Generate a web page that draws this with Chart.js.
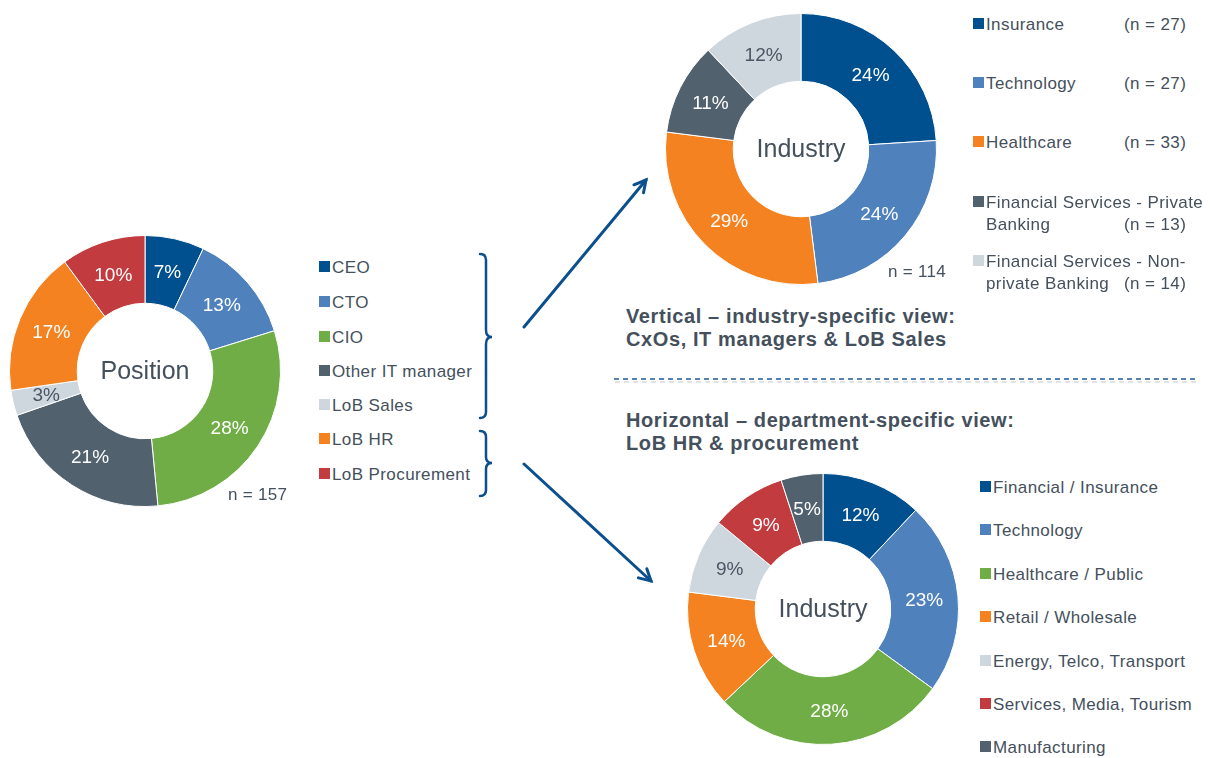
<!DOCTYPE html>
<html>
<head>
<meta charset="utf-8">
<script src="https://cdn.jsdelivr.net/npm/chart.js@4.4.1/dist/chart.umd.min.js"></script>
<style>
  html, body { margin: 0; padding: 0; background: #fff; }
  body { width: 1213px; height: 758px; position: relative; overflow: hidden;
         font-family: "Liberation Sans", Arial, sans-serif; color: #44505c; }
  canvas.pie { position: absolute; }
  .lg { position: absolute; font-size: 17px; letter-spacing: 0.4px; line-height: 22px; white-space: nowrap; }
  .sw { position: absolute; width: 11px; height: 11px; }
  .head { position: absolute; font-weight: bold; font-size: 20px; letter-spacing: 0.6px; line-height: 23px; white-space: nowrap; }
  .note { position: absolute; font-size: 17px; letter-spacing: 0.3px; white-space: nowrap; }
  svg { position: absolute; left: 0; top: 0; }
</style>
</head>
<body>
<svg width="1213" height="758" id="deco"></svg>
<canvas class="pie" id="posChart" width="272" height="272" style="left:9px;top:235px"></canvas>
<canvas class="pie" id="vertChart" width="272" height="272" style="left:665px;top:13px"></canvas>
<canvas class="pie" id="horChart" width="272" height="272" style="left:687px;top:473px"></canvas>

<div class="note" style="left:228px;top:485px">n = 157</div>
<div class="note" style="left:888px;top:262px">n = 114</div>

<div class="head" style="left:626px;top:305px">Vertical – industry-specific view:<br>CxOs, IT managers &amp; LoB Sales</div>
<div class="head" style="left:626px;top:409px">Horizontal – department-specific view:<br>LoB HR &amp; procurement</div>

<script>
// palette
const DK_BLUE = "#00508f", MID_BLUE = "#4f81bd", GREEN = "#70ad47", SLATE = "#52616e",
      LIGHT = "#cfd7de", ORANGE = "#f58220", RED = "#c13b3f";

// Position breakdown
const positionLabels = ["CEO", "CTO", "CIO", "Other IT manager", "LoB Sales", "LoB HR", "LoB Procurement"];
const positionValues = [7, 13, 28, 21, 3, 17, 10];
const positionColors = [DK_BLUE, MID_BLUE, GREEN, SLATE, LIGHT, ORANGE, RED];

// Vertical view - industries
const verticalLabels = ["Insurance", "Technology", "Healthcare",
  ["Financial Services - Private", "Banking"], ["Financial Services - Non-", "private Banking"]];
const verticalValues = [24, 24, 29, 11, 12];
const verticalCounts = [27, 27, 33, 13, 14];
const verticalColors = [DK_BLUE, MID_BLUE, ORANGE, SLATE, LIGHT];

// Horizontal view - industries
const horizontalLabels = ["Financial / Insurance", "Technology", "Healthcare / Public", "Retail / Wholesale",
  "Energy, Telco, Transport", "Services, Media, Tourism", "Manufacturing"];
const horizontalValues = [12, 23, 28, 14, 9, 9, 5];
const horizontalColors = [DK_BLUE, MID_BLUE, GREEN, ORANGE, LIGHT, RED, SLATE];

// percent labels inside the ring + caption in the hole
const ringText = {
  id: "ringText",
  afterDatasetsDraw(chart, args, opts) {
    const ctx = chart.ctx;
    const meta = chart.getDatasetMeta(0);
    const ds = chart.data.datasets[0];
    ctx.save();
    ctx.textAlign = "center";
    ctx.textBaseline = "middle";
    ctx.font = "19px 'Liberation Sans', Arial, sans-serif";
    meta.data.forEach((arc, i) => {
      const p = arc.tooltipPosition();
      ctx.fillStyle = ds.backgroundColor[i] === LIGHT ? "#4a5663" : "#fff";
      ctx.fillText(ds.data[i] + "%", p.x, p.y + 1);
    });
    const a = meta.data[0];
    ctx.fillStyle = "#44505c";
    ctx.font = "25px 'Liberation Sans', Arial, sans-serif";
    ctx.fillText(opts.caption, a.x, a.y + 1);
    ctx.restore();
  }
};

function makeDonut(id, labels, values, colors, caption) {
  return new Chart(document.getElementById(id), {
    type: "doughnut",
    data: {
      labels: labels,
      datasets: [{ data: values, backgroundColor: colors, borderColor: "#fff", borderWidth: 1 }]
    },
    options: {
      responsive: false,
      animation: false,
      cutout: "50%",
      plugins: { legend: { display: false }, tooltip: { enabled: false }, ringText: { caption: caption } }
    },
    plugins: [ringText]
  });
}

makeDonut("posChart", positionLabels, positionValues, positionColors, "Position");
makeDonut("vertChart", verticalLabels, verticalValues, verticalColors, "Industry");
makeDonut("horChart", horizontalLabels, horizontalValues, horizontalColors, "Industry");

// legends
function addLegend(labels, colors, x, ys, counts, countX) {
  labels.forEach((lab, i) => {
    const lines = Array.isArray(lab) ? lab : [lab];
    const sw = document.createElement("div");
    sw.className = "sw";
    sw.style.background = colors[i];
    sw.style.left = x + "px";
    sw.style.top = (ys[i] - 7) + "px";
    document.body.appendChild(sw);
    const t = document.createElement("div");
    t.className = "lg";
    t.style.left = (x + 13) + "px";
    t.style.top = (ys[i] - 11) + "px";
    t.innerHTML = lines.join("<br>");
    document.body.appendChild(t);
    if (counts) {
      const c = document.createElement("div");
      c.className = "lg";
      c.style.left = countX + "px";
      c.style.top = (ys[i] - 11 + (lines.length - 1) * 22) + "px";
      c.textContent = "(n = " + counts[i] + ")";
      document.body.appendChild(c);
    }
  });
}
addLegend(positionLabels, positionColors, 319, [268, 303, 338, 372, 406, 440, 475]);
addLegend(verticalLabels, verticalColors, 973, [25, 84, 143, 203, 262], verticalCounts, 1124);
addLegend(horizontalLabels, horizontalColors, 980, [488, 531, 575, 618, 662, 705, 748]);

// brackets, arrows, divider
const NS = "http://www.w3.org/2000/svg";
const svg = document.getElementById("deco");
function path(d, extra) {
  const p = document.createElementNS(NS, "path");
  p.setAttribute("d", d);
  p.setAttribute("fill", "none");
  p.setAttribute("stroke", extra && extra.stroke || "#0b4f8e");
  p.setAttribute("stroke-width", extra && extra.w || 3);
  if (extra && extra.dash) p.setAttribute("stroke-dasharray", extra.dash);
  p.setAttribute("stroke-linecap", extra && extra.cap || "round");
  svg.appendChild(p);
}
path("M480,254 Q486,254 486,260 L486,330 Q486,337 492,337 Q486,337 486,344 L486,412 Q486,418 480,418", { w: 2.5 });
path("M480,431 Q486,431 486,437 L486,457 Q486,463 492,463 Q486,463 486,469 L486,490 Q486,496 480,496", { w: 2.5 });
function arrow(x1, y1, x2, y2) {
  path(`M${x1},${y1} L${x2},${y2}`);
  const ang = Math.atan2(y2 - y1, x2 - x1), L = 13, sp = 0.5;
  const a1 = [x2 - L * Math.cos(ang - sp), y2 - L * Math.sin(ang - sp)];
  const a2 = [x2 - L * Math.cos(ang + sp), y2 - L * Math.sin(ang + sp)];
  path(`M${a1[0]},${a1[1]} L${x2},${y2} L${a2[0]},${a2[1]}`, { cap: "round" });
}
arrow(524, 327, 646, 180);
arrow(524, 464, 651, 581);
path("M615,382 L1197,382", { stroke: "#e2e2e2", w: 2, dash: "5 4", cap: "butt" });
path("M614,379 L1197,379", { stroke: "#1f5a96", w: 1.6, dash: "5 4", cap: "butt" });
</script>
</body>
</html>
